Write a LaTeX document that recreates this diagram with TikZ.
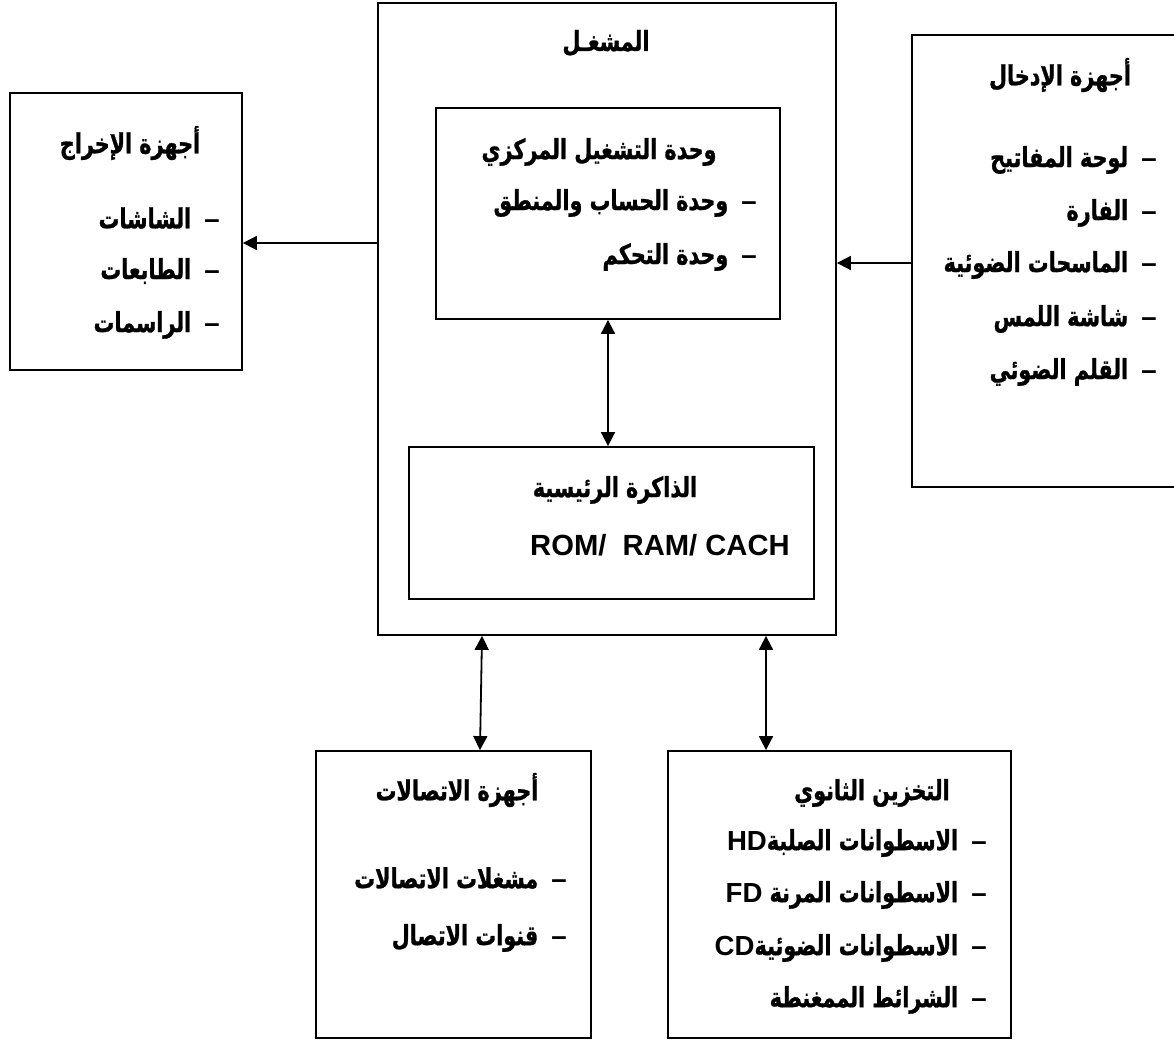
\documentclass[tikz,border=0pt]{standalone}
\usepackage{fontspec}
\setmainfont{Liberation Sans}
\newfontfamily\arabicfont[Script=Arabic,FakeStretch=0.75,BoldFeatures={FakeBold=1}]{DejaVu Sans}
\TeXXeTstate=1
\usetikzlibrary{positioning,fit,arrows.meta}

\newcommand{\artxt}[1]{{\arabicfont\bfseries\beginR #1\endR}}
\newcommand{\itm}[1]{{\arabicfont\bfseries\beginR{\rmfamily\bfseries –}\hspace{6.5pt}#1\endR}}
\newcommand{\lat}[1]{\beginL{\rmfamily\bfseries #1}\endL{}}

\begin{document}
\begin{tikzpicture}[x=0.5pt,y=-0.5pt,
    box/.style={draw,line width=0.9pt,inner sep=0pt},
    head/.style={inner sep=0pt,font=\fontsize{13.8}{15}\selectfont},
    item/.style={inner sep=0pt,anchor=east,font=\fontsize{13.8}{15}\selectfont},
    link/.style={line width=0.9pt,-{Triangle[length=7pt,width=7pt]}},
    both/.style={line width=0.9pt,{Triangle[length=7pt,width=7pt]}-{Triangle[length=7pt,width=7pt]}}]
\path[fill=white,use as bounding box] (0,0) rectangle (1174,1042);

% boxes
\node    (main)   [box,fit={(378,3) (836,635)}]     {};
\node    (cpu)    [box,fit={(436,108) (780,319)}]   {};
\node    (mem)    [box,fit={(409,447) (814,599)}]   {};
\node    (out)    [box,fit={(10,93) (242,370)}]     {};
\node    (in)     [box,fit={(912,35) (1186,487)}]   {};
\node    (comm)   [box,fit={(316,751) (591,1038)}]  {};
\node    (store)  [box,fit={(668,751) (1011,1038)}] {};

% processor
\node    (mainT)  [head]  at (606,43)   {\artxt{المشغـل}};
\node    (cpuT)   [head]  at (599,152)  {\artxt{وحدة التشغيل المركزي}};
\node    (cpu1)   [item]  at (757,203)  {\itm{وحدة الحساب والمنطق}};
\node    (cpu2)   [item]  at (757,257)  {\itm{وحدة التحكم}};
\node    (memT)   [head]  at (615,490)  {\artxt{الذاكرة الرئيسية}};
\node    (memL)   [head,font=\fontsize{14.6}{16}\selectfont\bfseries]
                          at (660,545)  {ROM/\ \ RAM/ CACH};

% output
\node    (outT)   [head]  at (130,143)  {\artxt{أجهزة الإخراج}};
\node    (out1)   [item]  at (220,218)  {\itm{الشاشات}};
\node    (out2)   [item]  at (220,271)  {\itm{الطابعات}};
\node    (out3)   [item]  at (220,325)  {\itm{الراسمات}};

% input
\node    (inT)    [head]  at (1060,75)  {\artxt{أجهزة الإدخال}};
\node    (in1)    [item]  at (1157,160) {\itm{لوحة المفاتيح}};
\node    (in2)    [item]  at (1157,213) {\itm{الفارة}};
\node    (in3)    [item]  at (1157,265) {\itm{الماسحات الضوئية}};
\node    (in4)    [item]  at (1157,319) {\itm{شاشة اللمس}};
\node    (in5)    [item]  at (1157,372) {\itm{القلم الضوئي}};

% communication
\node    (commT)  [head]  at (457,790)  {\artxt{أجهزة الاتصالات}};
\node    (comm1)  [item]  at (567,878)  {\itm{مشغلات الاتصالات}};
\node    (comm2)  [item]  at (567,938)  {\itm{قنوات الاتصال}};

% secondary storage
\node    (storeT) [head]  at (872,793)  {\artxt{التخزين الثانوي}};
\node    (store1) [item]  at (987,843)  {\itm{الاسطوانات الصلبة\lat{HD}}};
\node    (store2) [item]  at (987,895)  {\itm{الاسطوانات المرنة \lat{FD}}};
\node    (store3) [item]  at (987,948)  {\itm{الاسطوانات الضوئية\lat{CD}}};
\node    (store4) [item]  at (987,1000) {\itm{الشرائط الممغنطة}};

% connectors
\draw    [link]   (main.west |- 0,243)  -- (out.east |- 0,243);
\draw    [link]   (in.west |- 0,263)    -- (main.east |- 0,263);
\draw    [both]   (cpu.south -| 608,0)  -- (mem.north -| 608,0);
\draw    [both]   (main.south -| 482,0) -- (comm.north -| 480,0);
\draw    [both]   (main.south -| 766,0) -- (store.north -| 766,0);
\end{tikzpicture}
\end{document}
